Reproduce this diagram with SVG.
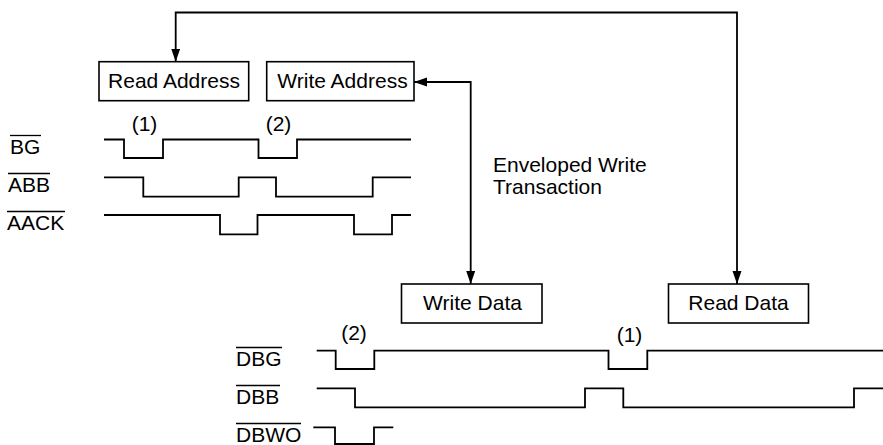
<svg xmlns="http://www.w3.org/2000/svg" width="883" height="445" viewBox="0 0 883 445">
<style>
text{font-family:"Liberation Sans",Arial,Helvetica,sans-serif;font-size:21px;fill:#000}
.box rect{fill:#fff;stroke:#000;stroke-width:1.6}
.box text{text-anchor:middle}
.wave{fill:none;stroke:#000;stroke-width:1.8;stroke-linejoin:miter}
.ov{stroke:#000;stroke-width:1.3}
.num{text-anchor:middle}
.conn{fill:none;stroke:#000;stroke-width:1.8}
</style>
<defs>
<marker id="ah" markerUnits="userSpaceOnUse" markerWidth="14" markerHeight="10" refX="13" refY="4.5" orient="auto-start-reverse">
<path d="M0,0 L13,4.5 L0,9 z" fill="#000"/>
</marker>
</defs>
<rect width="883" height="445" fill="#fff"/>
<g id="connectors">
<path class="conn" d="M737,284 V12.5 H175.7 V61.7" marker-start="url(#ah)" marker-end="url(#ah)"/>
<path class="conn" d="M414,82 H470.7 V284" marker-start="url(#ah)" marker-end="url(#ah)"/>
</g>
<g id="read-address" class="box"><rect x="99" y="61.7" width="149.7" height="39"/><text x="174" y="88">Read Address</text></g>
<g id="write-address" class="box"><rect x="266.7" y="61.7" width="147.3" height="39"/><text x="342.5" y="88">Write Address</text></g>
<g id="write-data" class="box"><rect x="401.5" y="284" width="140.5" height="39"/><text x="472.5" y="309.5">Write Data</text></g>
<g id="read-data" class="box"><rect x="668.5" y="284" width="140" height="39"/><text x="738.5" y="309.5">Read Data</text></g>
<g id="envelope-label"><text x="493" y="171.5">Enveloped Write</text><text x="493" y="193.5">Transaction</text></g>
<g id="address-signals">
<text x="10" y="154">BG</text><line class="ov" x1="10" y1="135.5" x2="41" y2="135.5"/>
<text x="8" y="192">ABB</text><line class="ov" x1="8" y1="173.5" x2="50" y2="173.5"/>
<text x="7" y="230">AACK</text><line class="ov" x1="7" y1="211.5" x2="65" y2="211.5"/>
<text class="num" x="144.5" y="131">(1)</text>
<text class="num" x="278.5" y="131">(2)</text>
<polyline class="wave" points="104,139.5 124,139.5 124,158 163,158 163,139.5 258.5,139.5 258.5,158 297,158 297,139.5 411,139.5"/>
<polyline class="wave" points="104,177.3 143.3,177.3 143.3,196.7 238.7,196.7 238.7,177.3 276,177.3 276,196.7 372.7,196.7 372.7,177.3 411,177.3"/>
<polyline class="wave" points="104,215 220,215 220,234.3 257.5,234.3 257.5,215 354,215 354,234.3 392,234.3 392,215 411,215"/>
</g>
<g id="data-signals">
<text x="236" y="366">DBG</text><line class="ov" x1="236" y1="347.5" x2="282" y2="347.5"/>
<text x="236" y="404">DBB</text><line class="ov" x1="236" y1="385.5" x2="280" y2="385.5"/>
<text x="236" y="442">DBWO</text><line class="ov" x1="236" y1="423.5" x2="301" y2="423.5"/>
<text class="num" x="354" y="340">(2)</text>
<text class="num" x="629.5" y="342">(1)</text>
<polyline class="wave" points="316.7,350.7 335.7,350.7 335.7,369 374.3,369 374.3,350.7 608.5,350.7 608.5,369 647.3,369 647.3,350.7 883,350.7"/>
<polyline class="wave" points="316.7,388.3 355,388.3 355,407.3 585,407.3 585,388.3 623.3,388.3 623.3,407.3 854,407.3 854,388.3 883,388.3"/>
<polyline class="wave" points="313.3,427.3 335,427.3 335,444 374,444 374,427.3 393.3,427.3"/>
</g>
</svg>
